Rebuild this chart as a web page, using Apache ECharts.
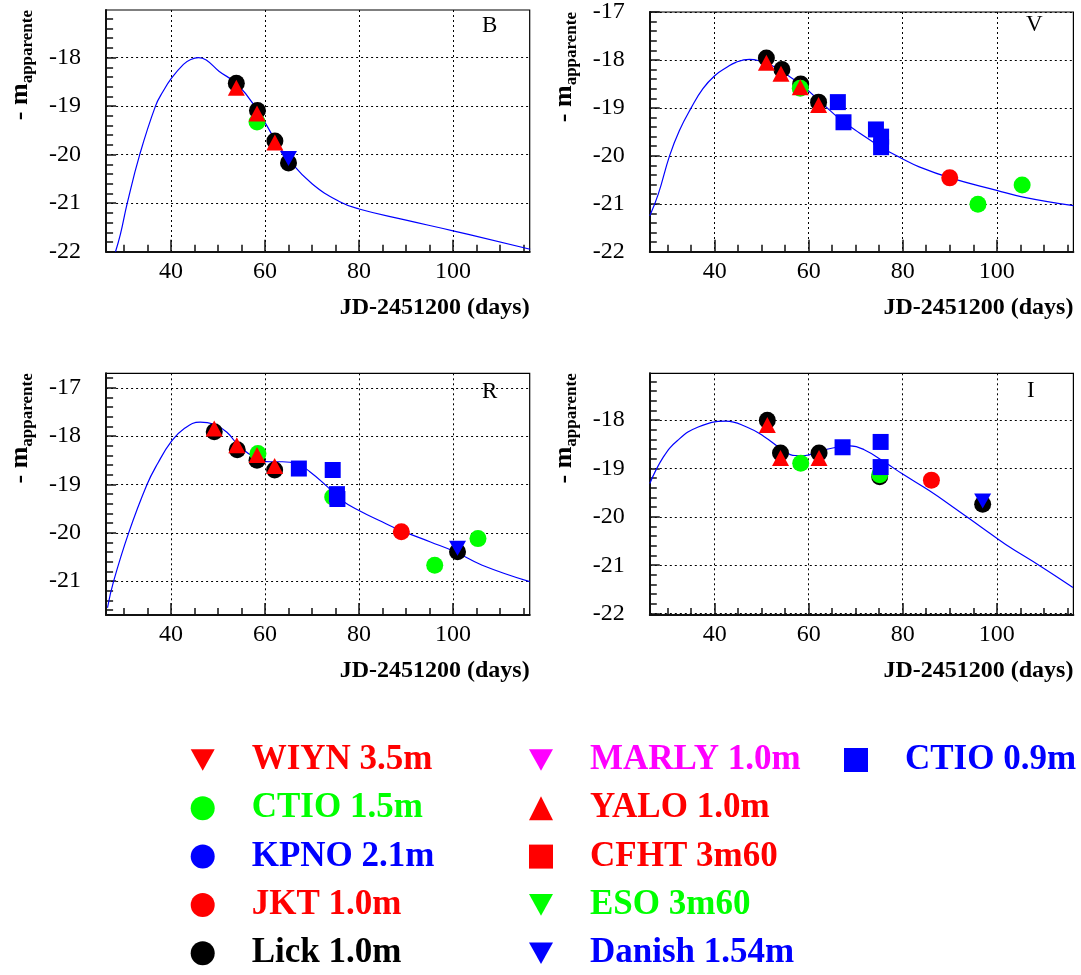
<!DOCTYPE html>
<html>
<head>
<meta charset="utf-8">
<script src="https://cdn.jsdelivr.net/npm/echarts@6/dist/echarts.min.js"></script>
<style>
html,body{margin:0;padding:0;background:#fff;}
#chart{width:1081px;height:975px;}
</style>
</head>
<body>
<div id="chart"></div>
<script>
// ---------- tick labels ----------
const xTickLabels = [40, 60, 80, 100];
const xMinorTicks = [30, 35, 45, 50, 55, 65, 70, 75, 85, 90, 95, 105, 110, 115];
const yTickLabelsB = [-22, -21, -20, -19, -18];
const yTickLabelsV = [-22, -21, -20, -19, -18, -17];
const yTickLabelsR = [-21, -20, -19, -18, -17];
const yTickLabelsI = [-22, -21, -20, -19, -18];
const yMinorTicks = [-22, -21.8, -21.6, -21.4, -21.2, -21, -20.8, -20.6, -20.4, -20.2, -20,
  -19.8, -19.6, -19.4, -19.2, -19, -18.8, -18.6, -18.4, -18.2, -18,
  -17.8, -17.6, -17.4, -17.2, -17, -16.8];
const bandNames = ['B', 'V', 'R', 'I'];
const xName = 'JD-2451200 (days)';
const xMin = 26.2, xMax = 116.3;

// ---------- B band ----------
const bFit = [[28.2,-22.0],[29.25,-21.64],[30.7,-21.0],[33.35,-20.0],[36.7,-19.0],[38.3,-18.7],[40,-18.44],
  [42.65,-18.14],[44.2,-18.04],[45.85,-18.0],[47.5,-18.05],[50.2,-18.28],[54.1,-18.55],[58.3,-19.07],[62.3,-19.72],[65,-20.1],
  [70,-20.6],[75.9,-20.97],[80,-21.12],[90,-21.35],[100,-21.57],[116.4,-21.95]];
const bLick = [[53.9,-18.53],[58.4,-19.09],[62.1,-19.72],[65.0,-20.17]];
const bYalo = [[53.9,-18.62],[58.3,-19.15],[62.1,-19.75]];
const bCtio15 = [[58.3,-19.33]];
const bDanish = [[65.0,-20.08]];

// ---------- V band ----------
const vFit = [[26.2,-21.25],[28.0,-20.8],[30.4,-20.0],[32.5,-19.47],[35.0,-19.0],[37.5,-18.6],[40,-18.33],
  [42.5,-18.16],[44.5,-18.05],[47.4,-17.99],[50.0,-18.03],[51.7,-18.09],[55.2,-18.3],[58.7,-18.54],[63.0,-18.92],[66.6,-19.23],
  [70.3,-19.49],[75.4,-19.82],[79.9,-20.06],[83.5,-20.23],[90.1,-20.46],[100,-20.72],[105.6,-20.86],[116.3,-21.04]];
const vLick = [[51.0,-17.96],[54.3,-18.2],[58.3,-18.5],[62.1,-18.88]];
const vYalo = [[51.0,-18.06],[54.1,-18.29],[58.2,-18.57],[62.1,-18.94]];
const vCtio15 = [[58.2,-18.59],[96.0,-21.01],[105.4,-20.61]];
const vCtio09 = [[66.2,-18.88],[67.4,-19.3],[74.3,-19.45],[75.4,-19.6],[75.4,-19.82]];
const vJkt = [[90.0,-20.46]];

// ---------- R band ----------
const rFit = [[26.5,-21.55],[27.8,-21.0],[31.0,-20.0],[34.9,-19.0],[37.2,-18.56],[40,-18.12],[42.7,-17.85],
  [46.2,-17.71],[49.0,-17.75],[51.9,-17.92],[54.7,-18.23],[58.3,-18.46],[61.1,-18.53],[63.7,-18.53],
  [66.7,-18.57],[69.6,-18.74],[73.3,-19.05],[76.2,-19.32],[80.6,-19.57],[84.2,-19.74],[88.6,-19.94],
  [95.2,-20.19],[100.4,-20.39],[106.2,-20.67],[116.3,-21.01]];
const rLick = [[49.2,-17.91],[54.1,-18.28],[58.3,-18.5],[62.05,-18.7],[100.95,-20.39]];
const rYalo = [[49.2,-17.84],[54.0,-18.19],[58.3,-18.39],[62.05,-18.62]];
const rCtio15 = [[58.5,-18.36],[74.4,-19.26],[96.1,-20.67],[105.3,-20.12]];
const rCtio09 = [[67.2,-18.67],[74.4,-18.7],[75.3,-19.2],[75.4,-19.3]];
const rJkt = [[89.0,-19.98]];
const rDanish = [[100.95,-20.32]];

// ---------- I band ----------
const iFit = [[26.2,-19.31],[29.1,-18.76],[32.1,-18.42],[36.5,-18.14],[42.4,-18.02],[46.8,-18.14],[50.4,-18.33],
  [54.1,-18.59],[57.1,-18.73],[59.3,-18.73],[62.2,-18.64],[65.9,-18.56],[68.8,-18.53],[71.8,-18.61],
  [76.2,-18.87],[79.9,-19.11],[85.7,-19.46],[90.9,-19.81],[96.8,-20.22],[101.9,-20.57],[109.3,-21.02],[116.2,-21.46]];
const iLick = [[51.2,-18.0],[54.0,-18.68],[62.2,-18.68],[75.1,-19.17],[97.0,-19.74]];
const iYalo = [[51.2,-18.1],[54.0,-18.78],[62.2,-18.78]];
const iCtio15 = [[58.3,-18.89],[75.1,-19.13]];
const iCtio09 = [[67.2,-18.56],[75.3,-18.45],[75.3,-18.97]];
const iJkt = [[86.1,-19.24]];
const iDanish = [[97.0,-19.67]];

// ---------- legend columns ----------
const legendCol1 = ['WIYN 3.5m', 'CTIO 1.5m', 'KPNO 2.1m', 'JKT 1.0m', 'Lick 1.0m'];
const legendCol2 = ['MARLY 1.0m', 'YALO 1.0m', 'CFHT 3m60', 'ESO 3m60', 'Danish 1.54m'];
const legendCol3 = ['CTIO 0.9m'];

// ---------- styles ----------
const FONT = '"Liberation Serif", "Times New Roman", serif';
const DOWN = 'path://M0,0L20,0L10,18Z';
const style = {
  'WIYN 3.5m': [DOWN, '#ff0000'],
  'CTIO 1.5m': ['circle', '#00ff00'],
  'KPNO 2.1m': ['circle', '#0000ff'],
  'JKT 1.0m': ['circle', '#ff0000'],
  'Lick 1.0m': ['circle', '#000000'],
  'MARLY 1.0m': [DOWN, '#ff00ff'],
  'YALO 1.0m': ['triangle', '#ff0000'],
  'CFHT 3m60': ['rect', '#ff0000'],
  'ESO 3m60': [DOWN, '#00ff00'],
  'Danish 1.54m': [DOWN, '#0000ff'],
  'CTIO 0.9m': ['rect', '#0000ff']
};
const symSize = {circle: 17, triangle: [17, 16], rect: 16};

const panels = [
  {fit: bFit, yMin: -22, yMax: -17.02, yLabels: yTickLabelsB,
   pts: {'Lick 1.0m': bLick, 'CTIO 1.5m': bCtio15, 'YALO 1.0m': bYalo, 'Danish 1.54m': bDanish}},
  {fit: vFit, yMin: -22, yMax: -17, yLabels: yTickLabelsV,
   pts: {'Lick 1.0m': vLick, 'CTIO 1.5m': vCtio15, 'JKT 1.0m': vJkt, 'YALO 1.0m': vYalo, 'CTIO 0.9m': vCtio09}},
  {fit: rFit, yMin: -21.7, yMax: -16.7, yLabels: yTickLabelsR,
   pts: {'Lick 1.0m': rLick, 'CTIO 1.5m': rCtio15, 'JKT 1.0m': rJkt, 'YALO 1.0m': rYalo, 'CTIO 0.9m': rCtio09, 'Danish 1.54m': rDanish}},
  {fit: iFit, yMin: -22.03, yMax: -17.03, yLabels: yTickLabelsI,
   pts: {'Lick 1.0m': iLick, 'CTIO 1.5m': iCtio15, 'JKT 1.0m': iJkt, 'YALO 1.0m': iYalo, 'CTIO 0.9m': iCtio09, 'Danish 1.54m': iDanish}}
];
const drawOrder = ['Lick 1.0m', 'CTIO 1.5m', 'JKT 1.0m', 'YALO 1.0m', 'CTIO 0.9m', 'Danish 1.54m'];

const gridPos = [
  {left: 106.1, top: 10}, {left: 649.8, top: 10},
  {left: 106.1, top: 373.3}, {left: 649.8, top: 373.3}
];
const titlePos = [{left: 482, top: 14}, {left: 1026, top: 13}, {left: 482, top: 380}, {left: 1027, top: 379}];

const tickFont = {fontFamily: FONT, fontSize: 24, fontWeight: 'normal', color: '#000'};

const grids = [], xAxes = [], yAxes = [], series = [], titles = [];
panels.forEach((p, g) => {
  grids.push({left: gridPos[g].left, top: gridPos[g].top, width: 423.6, height: 241.7,
    show: true, borderColor: '#000', borderWidth: 1.2, backgroundColor: 'transparent'});
  titles.push({text: bandNames[g], left: titlePos[g].left, top: titlePos[g].top, padding: 0,
    textStyle: {fontFamily: FONT, fontWeight: 'normal', fontSize: 23, color: '#000'}});
  xAxes.push({
    gridIndex: g, type: 'value', position: 'bottom', min: xMin, max: xMax,
    axisLine: {show: true, onZero: false, lineStyle: {color: '#111', width: 2}},
    axisTick: {show: true, inside: true, length: 12, customValues: xTickLabels, lineStyle: {color: '#111', width: 1.5}},
    axisLabel: Object.assign({show: true, customValues: xTickLabels, margin: 8}, tickFont),
    splitLine: {show: true, lineStyle: {color: '#000', width: 1, type: [2, 3]}},
    name: xName, nameLocation: 'end', nameGap: 0,
    nameTextStyle: {fontFamily: FONT, fontWeight: 'bold', fontSize: 24, color: '#000',
      align: 'right', verticalAlign: 'top', padding: [44, 0, 0, 0]}
  });
  xAxes.push({
    gridIndex: g, type: 'value', position: 'bottom', min: xMin, max: xMax,
    axisLine: {show: false}, axisLabel: {show: false}, splitLine: {show: false},
    axisTick: {show: true, inside: true, length: 7, customValues: xMinorTicks, lineStyle: {color: '#111', width: 1.5}}
  });
  yAxes.push({
    gridIndex: g, type: 'value', position: 'left', min: p.yMin, max: p.yMax,
    axisLine: {show: true, onZero: false, lineStyle: {color: '#111', width: 2}},
    axisTick: {show: true, inside: true, length: 10, customValues: p.yLabels, lineStyle: {color: '#111', width: 1.5}},
    axisLabel: Object.assign({show: true, customValues: p.yLabels, margin: 25}, tickFont),
    splitLine: {show: true, lineStyle: {color: '#000', width: 1, type: [2, 3]}},
    name: '{a|- m}{b|apparente}', nameLocation: 'end', nameRotate: 90, nameGap: 0,
    nameTextStyle: {align: 'right', verticalAlign: 'bottom', padding: [0, 0, 70, 0],
      rich: {
        a: {fontFamily: FONT, fontWeight: 'bold', fontSize: 26, color: '#000', verticalAlign: 'top'},
        b: {fontFamily: FONT, fontWeight: 'bold', fontSize: 17, color: '#000', verticalAlign: 'bottom', padding: [12, 0, 0, 0]}
      }}
  });
  yAxes.push({
    gridIndex: g, type: 'value', position: 'left', min: p.yMin, max: p.yMax,
    axisLine: {show: false}, axisLabel: {show: false}, splitLine: {show: false},
    axisTick: {show: true, inside: true, length: 7, customValues: yMinorTicks, lineStyle: {color: '#111', width: 1.5}}
  });
  series.push({
    type: 'line', name: 'fit', xAxisIndex: 2 * g, yAxisIndex: 2 * g, data: p.fit,
    smooth: 0.45, showSymbol: false, silent: true, z: 1,
    lineStyle: {color: '#0000ff', width: 1.2}
  });
  drawOrder.forEach(name => {
    if (!p.pts[name]) return;
    const [sym, col] = style[name];
    series.push({
      type: 'scatter', name: name, xAxisIndex: 2 * g, yAxisIndex: 2 * g, data: p.pts[name],
      symbol: sym, symbolSize: symSize[sym] || [17, 15], z: 2,
      itemStyle: {color: col, opacity: 1}
    });
  });
});
// legend-only instruments (no points in these panels)
Object.keys(style).forEach(name => {
  if (series.some(s => s.name === name)) return;
  const [sym, col] = style[name];
  series.push({type: 'scatter', name: name, xAxisIndex: 0, yAxisIndex: 0, data: [],
    symbol: sym, symbolSize: symSize[sym] || [17, 15], itemStyle: {color: col, opacity: 1}});
});

function makeLegend(names, left) {
  return {
    orient: 'vertical', left: left, top: 742, padding: 0, itemGap: 12.3,
    itemWidth: 24, itemHeight: 24, selectedMode: false,
    itemStyle: {opacity: 1},
    textStyle: {fontFamily: FONT, fontWeight: 'bold', fontSize: 35, lineHeight: 36, padding: [0, 0, 0, 32]},
    data: names.map(n => ({name: n, textStyle: {color: style[n][1]}}))
  };
}

const chart = echarts.init(document.getElementById('chart'), null, {renderer: 'canvas'});
chart.setOption({
  animation: false,
  backgroundColor: '#fff',
  title: titles,
  grid: grids,
  xAxis: xAxes,
  yAxis: yAxes,
  legend: [makeLegend(legendCol1, 190.7), makeLegend(legendCol2, 529), makeLegend(legendCol3, 844)],
  series: series
});
</script>
</body>
</html>
